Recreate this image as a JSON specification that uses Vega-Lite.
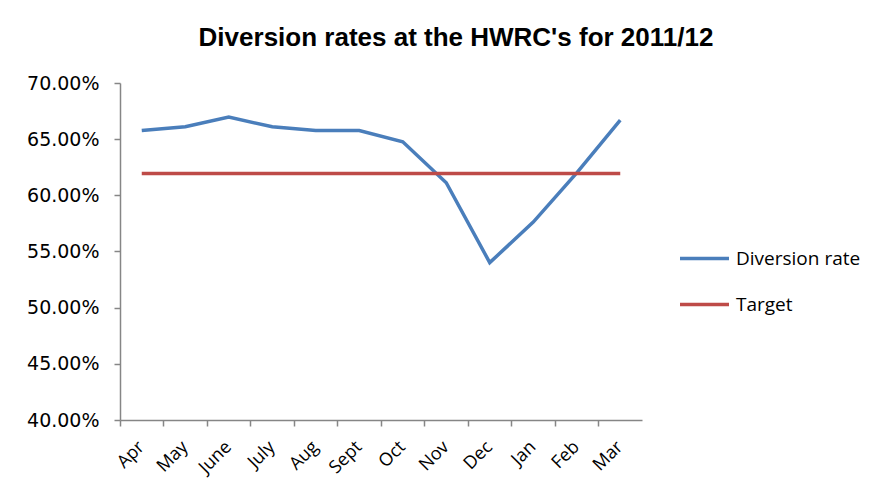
{
  "$schema": "https://vega.github.io/schema/vega-lite/v6.json",
  "autosize": {"type": "none"},
  "width": 522,
  "height": 337,
  "padding": {"left": 120, "top": 83, "right": 253, "bottom": 84},
  "background": "white",
  "title": {
    "text": "Diversion rates at the HWRC's for 2011/12",
    "font": "Liberation Sans",
    "fontSize": 26,
    "fontWeight": "bold",
    "color": "#000000",
    "anchor": "middle",
    "frame": "group",
    "dx": 75,
    "offset": 23
  },
  "data": {
    "values": [
      {"month": "Apr", "series": "Diversion rate", "value": 0.6577},
      {"month": "May", "series": "Diversion rate", "value": 0.6610},
      {"month": "June", "series": "Diversion rate", "value": 0.6696},
      {"month": "July", "series": "Diversion rate", "value": 0.6610},
      {"month": "Aug", "series": "Diversion rate", "value": 0.6577},
      {"month": "Sept", "series": "Diversion rate", "value": 0.6577},
      {"month": "Oct", "series": "Diversion rate", "value": 0.6477},
      {"month": "Nov", "series": "Diversion rate", "value": 0.6112},
      {"month": "Dec", "series": "Diversion rate", "value": 0.5401},
      {"month": "Jan", "series": "Diversion rate", "value": 0.5762},
      {"month": "Feb", "series": "Diversion rate", "value": 0.6200},
      {"month": "Mar", "series": "Diversion rate", "value": 0.6669},
      {"month": "Apr", "series": "Target", "value": 0.6195},
      {"month": "May", "series": "Target", "value": 0.6195},
      {"month": "June", "series": "Target", "value": 0.6195},
      {"month": "July", "series": "Target", "value": 0.6195},
      {"month": "Aug", "series": "Target", "value": 0.6195},
      {"month": "Sept", "series": "Target", "value": 0.6195},
      {"month": "Oct", "series": "Target", "value": 0.6195},
      {"month": "Nov", "series": "Target", "value": 0.6195},
      {"month": "Dec", "series": "Target", "value": 0.6195},
      {"month": "Jan", "series": "Target", "value": 0.6195},
      {"month": "Feb", "series": "Target", "value": 0.6195},
      {"month": "Mar", "series": "Target", "value": 0.6195}
    ]
  },
  "mark": {"type": "line", "strokeWidth": 3.5},
  "encoding": {
    "x": {
      "field": "month",
      "type": "ordinal",
      "sort": ["Apr", "May", "June", "July", "Aug", "Sept", "Oct", "Nov", "Dec", "Jan", "Feb", "Mar"],
      "scale": {"type": "band", "paddingInner": 0, "paddingOuter": 0},
      "axis": {
        "title": null,
        "labelAngle": -45,
        "labelAlign": "right",
        "labelBaseline": "middle",
        "labelFont": "Open Sans",
        "labelFontSize": 18,
        "labelColor": "#000000",
        "labelPadding": 18,
        "bandPosition": 0,
        "tickSize": 6,
        "tickColor": "#868686",
        "domainColor": "#868686",
        "domainWidth": 1.5,
        "tickWidth": 1.5,
        "grid": false
      }
    },
    "y": {
      "field": "value",
      "type": "quantitative",
      "scale": {"domain": [0.4, 0.7], "nice": false, "zero": false},
      "axis": {
        "title": null,
        "values": [0.4, 0.45, 0.5, 0.55, 0.6, 0.65, 0.7],
        "format": ".2%",
        "labelFont": "DejaVu Sans",
        "labelFontSize": 19,
        "labelColor": "#000000",
        "labelPadding": 15,
        "tickSize": 6,
        "tickColor": "#868686",
        "domainColor": "#868686",
        "domainWidth": 1.5,
        "tickWidth": 1.5,
        "grid": false
      }
    },
    "color": {
      "field": "series",
      "type": "nominal",
      "scale": {"domain": ["Diversion rate", "Target"], "range": ["#4A7EBB", "#BE4B48"]},
      "legend": {
        "title": null,
        "orient": "none",
        "legendX": 558,
        "legendY": 149,
        "symbolType": "stroke",
        "symbolSize": 2400,
        "symbolStrokeWidth": 3.5,
        "labelFont": "Open Sans",
        "labelFontSize": 19,
        "labelColor": "#000000",
        "labelOffset": 5,
        "rowPadding": 9
      }
    }
  },
  "config": {"view": {"stroke": null}}
}
